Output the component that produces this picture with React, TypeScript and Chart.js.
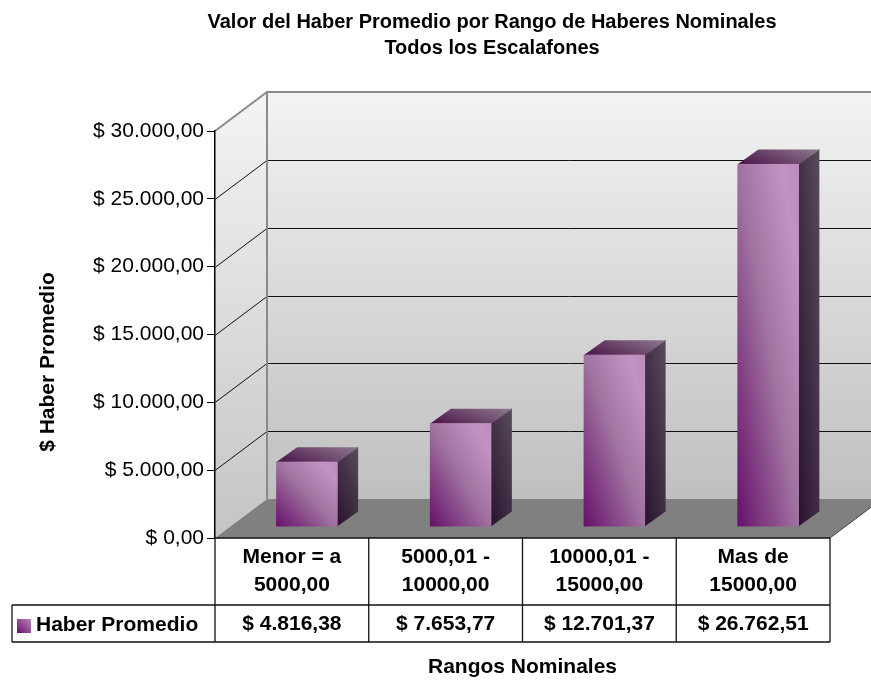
import React, { useEffect, useRef } from 'react';
import { Chart, registerables } from 'chart.js';

Chart.register(...registerables);

// ---------- data ----------
const titleLines = ['Valor del Haber Promedio por Rango de Haberes Nominales', 'Todos los Escalafones'];
const yAxisTitle = '$ Haber Promedio';
const xAxisTitle = 'Rangos Nominales';
const seriesName = 'Haber Promedio';
const categoryLines: string[][] = [
  ['Menor = a', '5000,00'],
  ['5000,01 -', '10000,00'],
  ['10000,01 -', '15000,00'],
  ['Mas de', '15000,00'],
];
const values = [4816.38, 7653.77, 12701.37, 26762.51];
const yMin = 0;
const yMax = 30000;
const yStep = 5000;

// ---------- helpers ----------
const FONT = '"Liberation Sans", Arial, Helvetica, sans-serif';

function fmt(v: number): string {
  const [i, d] = v.toFixed(2).split('.');
  return '$ ' + i.replace(/\B(?=(\d{3})+(?!\d))/g, '.') + ',' + d;
}

// perspective offsets (style)
const DX = 52;
const DY = -39;
const BOX = 15; // bar front offset
const BOY = -11;
const BDX = 21; // bar depth
const BDY = -15;

const threeD = {
  id: 'threeD',
  beforeDraw(chart: any) {
    const { ctx } = chart;
    const { left, right, top, bottom } = chart.chartArea;
    const ys = chart.scales.y;
    ctx.save();
    // left wall
    let g = ctx.createLinearGradient(0, top + DY, 0, bottom);
    g.addColorStop(0, '#f4f4f4');
    g.addColorStop(1, '#c4c4c4');
    ctx.fillStyle = g;
    ctx.beginPath();
    ctx.moveTo(left, top);
    ctx.lineTo(left + DX, top + DY);
    ctx.lineTo(left + DX, bottom + DY);
    ctx.lineTo(left, bottom);
    ctx.closePath();
    ctx.fill();
    // back wall
    g = ctx.createLinearGradient(0, top + DY, 0, bottom + DY);
    g.addColorStop(0, '#f3f3f3');
    g.addColorStop(1, '#bfbfbf');
    ctx.fillStyle = g;
    ctx.fillRect(left + DX, top + DY, right - left + 20, bottom - top);
    // floor
    ctx.fillStyle = '#808080';
    ctx.beginPath();
    ctx.moveTo(left, bottom);
    ctx.lineTo(right, bottom);
    ctx.lineTo(right + DX, bottom + DY);
    ctx.lineTo(left + DX, bottom + DY);
    ctx.closePath();
    ctx.fill();
    ctx.strokeStyle = '#404040';
    ctx.lineWidth = 1;
    ctx.beginPath();
    ctx.moveTo(right, bottom);
    ctx.lineTo(right + DX, bottom + DY);
    ctx.stroke();
    // grid lines
    for (let v = yMin + yStep; v < yMax; v += yStep) {
      const py = Math.round(ys.getPixelForValue(v)) + 0.5;
      ctx.strokeStyle = '#111';
      ctx.lineWidth = 1;
      ctx.beginPath();
      ctx.moveTo(left, py);
      ctx.lineTo(left + DX, py + DY);
      ctx.lineTo(right + DX + 20, py + DY);
      ctx.stroke();
    }
    // wall borders
    const ty = ys.getPixelForValue(yMax);
    ctx.strokeStyle = '#8a8a8a';
    ctx.lineWidth = 2;
    ctx.beginPath();
    ctx.moveTo(left, ty);
    ctx.lineTo(left + DX, ty + DY);
    ctx.lineTo(right + DX + 20, ty + DY);
    ctx.moveTo(left + DX, ty + DY);
    ctx.lineTo(left + DX, bottom + DY);
    ctx.stroke();
    ctx.restore();
  },
  afterDatasetsDraw(chart: any) {
    const { ctx } = chart;
    const meta = chart.getDatasetMeta(0);
    ctx.save();
    meta.data.forEach((el: any) => {
      const p = el.getProps(['x', 'y', 'base', 'width'], true);
      const xL = p.x - p.width / 2 + BOX;
      const w = p.width;
      const yT = p.y + BOY;
      const yB = p.base + BOY;
      const h = yB - yT;
      const xR = xL + w;
      // side face
      ctx.save();
      ctx.transform(BDX, BDY, 0, h, xR - 0.5, yT);
      let g = ctx.createLinearGradient(0, 1, 1, 0);
      g.addColorStop(0, '#2a1230');
      g.addColorStop(1, '#584c5a');
      ctx.fillStyle = g;
      ctx.fillRect(0, 0, 1, 1);
      ctx.restore();
      // top face
      ctx.save();
      ctx.transform(w, 0, BDX, BDY, xL, yT + 0.5);
      g = ctx.createLinearGradient(0, 0, 1, 1);
      g.addColorStop(0, '#4a1248');
      g.addColorStop(1, '#8e7a8e');
      ctx.fillStyle = g;
      ctx.fillRect(0, 0, 1, 1);
      ctx.restore();
      // front face
      ctx.save();
      ctx.translate(xL, yT);
      ctx.scale(w, h);
      g = ctx.createLinearGradient(0, 1, 1, 0);
      g.addColorStop(0, '#66106a');
      g.addColorStop(0.5, '#a072a0');
      g.addColorStop(0.85, '#c293c2');
      g.addColorStop(1, '#bc8dbc');
      ctx.fillStyle = g;
      ctx.fillRect(0, 0, 1, 1);
      ctx.restore();
    });
    ctx.restore();
  },
  afterDraw(chart: any) {
    const { ctx } = chart;
    const { left, right, bottom } = chart.chartArea;
    const xs = chart.scales.x;
    ctx.save();
    ctx.fillStyle = '#000';
    ctx.textBaseline = 'middle';
    ctx.textAlign = 'center';
    // titles
    ctx.font = `bold 20px ${FONT}`;
    ctx.fillText(titleLines[0], 492, 22);
    ctx.fillText(titleLines[1], 492, 48);
    ctx.font = `bold 21px ${FONT}`;
    ctx.fillText(xAxisTitle, (left + right) / 2, 667);
    ctx.save();
    ctx.translate(48, 362);
    ctx.rotate(-Math.PI / 2);
    ctx.fillText(yAxisTitle, 0, 0);
    ctx.restore();

    // data table
    const rowMid = 605;
    const rowBot = 642;
    const legendLeft = 12;
    ctx.strokeStyle = '#111';
    ctx.lineWidth = 1.3;
    ctx.beginPath();
    ctx.moveTo(left, bottom);
    ctx.lineTo(right, bottom);
    ctx.moveTo(legendLeft, rowMid);
    ctx.lineTo(right, rowMid);
    ctx.moveTo(legendLeft, rowBot);
    ctx.lineTo(right, rowBot);
    ctx.moveTo(legendLeft, rowMid);
    ctx.lineTo(legendLeft, rowBot);
    const n = values.length;
    const cw = (right - left) / n;
    for (let i = 0; i <= n; i++) {
      const x = left + i * cw;
      ctx.moveTo(x, bottom);
      ctx.lineTo(x, rowBot);
    }
    ctx.stroke();

    ctx.font = `bold 21px ${FONT}`;
    values.forEach((v, i) => {
      const cx = xs.getPixelForValue(i);
      ctx.fillText(categoryLines[i][0], cx, 557);
      ctx.fillText(categoryLines[i][1], cx, 585);
      ctx.fillText(fmt(v), cx, 624);
    });
    // legend key
    const g = ctx.createLinearGradient(17, 633, 31, 619);
    g.addColorStop(0, '#66106a');
    g.addColorStop(1, '#b888b8');
    ctx.fillStyle = g;
    ctx.fillRect(17, 619, 14, 14);
    ctx.fillStyle = '#000';
    ctx.textAlign = 'left';
    ctx.fillText(seriesName, 36, 625);
    ctx.restore();
  },
};

export default function App() {
  const ref = useRef<HTMLCanvasElement>(null);
  useEffect(() => {
    document.body.style.margin = '0';
    if (!ref.current) return;
    const chart = new Chart(ref.current, {
      type: 'bar',
      data: {
        labels: categoryLines.map((l) => l.join(' ')),
        datasets: [
          {
            label: seriesName,
            data: values,
            backgroundColor: 'rgba(0,0,0,0)',
            borderWidth: 0,
            barPercentage: 0.4,
            categoryPercentage: 1,
          },
        ],
      },
      options: {
        animation: false,
        responsive: true,
        maintainAspectRatio: false,
        layout: { padding: { top: 131, bottom: 142, right: 41, left: 0 } },
        plugins: {
          legend: { display: false },
          title: { display: false },
          tooltip: { enabled: false },
        },
        scales: {
          x: { display: false },
          y: {
            min: yMin,
            max: yMax,
            ticks: {
              stepSize: yStep,
              color: '#000',
              font: { family: FONT, size: 21 },
              padding: 3,
              callback: (v: any) => fmt(Number(v)),
            },
            grid: { drawOnChartArea: false, drawTicks: true, tickLength: 8, color: '#000', lineWidth: 1 },
            border: { display: true, color: '#000', width: 1.5 },
            afterFit: (scale: any) => {
              scale.width = 215;
            },
          },
        },
      },
      plugins: [threeD],
    });
    return () => chart.destroy();
  }, []);
  return (
    <div style={{ position: 'absolute', left: 0, top: 0, width: 871, height: 680 }}>
      <canvas ref={ref} />
    </div>
  );
}
